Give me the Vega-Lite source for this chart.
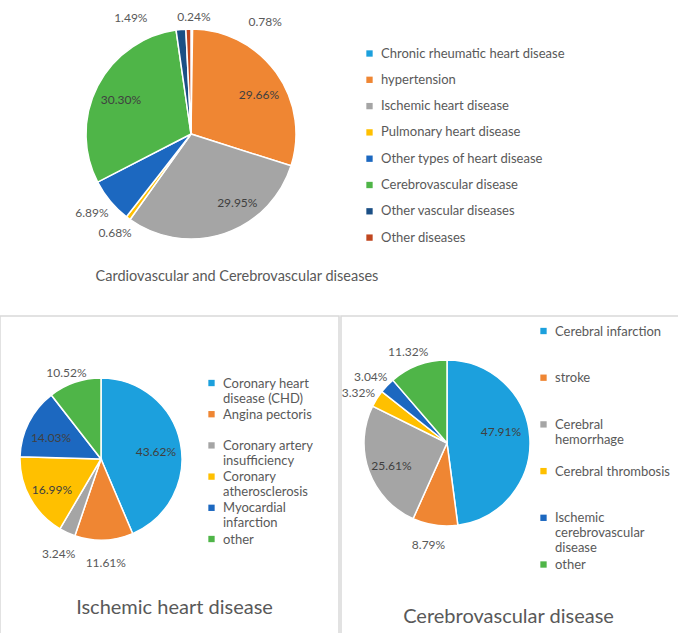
{
  "$schema": "https://vega.github.io/schema/vega-lite/v6.json",
  "padding": {"left": -1, "top": 5, "right": -1, "bottom": -2},
  "background": "white",
  "config": {
    "font": "Lato",
    "view": {"stroke": null},
    "legend": {"orient": "none", "symbolType": "square", "symbolSize": 40, "symbolStrokeWidth": 0, "labelFont": "Lato", "labelFontSize": 13, "labelColor": "#595959", "labelLimit": 400, "labelOffset": 5, "padding": 0},
    "title": {"font": "Lato", "fontWeight": "normal", "color": "#595959", "anchor": "middle", "frame": "group", "orient": "bottom"}
  },
  "datasets": {
    "top": [
      {"i": 1, "c": "Chronic rheumatic heart disease", "v": 0.0024},
      {"i": 2, "c": "hypertension", "v": 0.2966},
      {"i": 3, "c": "Ischemic heart disease", "v": 0.2995},
      {"i": 4, "c": "Pulmonary heart disease", "v": 0.0068},
      {"i": 5, "c": "Other types of heart disease", "v": 0.0689},
      {"i": 6, "c": "Cerebrovascular disease", "v": 0.3030},
      {"i": 7, "c": "Other vascular diseases", "v": 0.0149},
      {"i": 8, "c": "Other diseases", "v": 0.0078}
    ],
    "bl": [
      {"i": 1, "c": "Coronary heart disease (CHD)", "v": 0.4362},
      {"i": 2, "c": "Angina pectoris", "v": 0.1161},
      {"i": 3, "c": "Coronary artery insufficiency", "v": 0.0324},
      {"i": 4, "c": "Coronary atherosclerosis", "v": 0.1699},
      {"i": 5, "c": "Myocardial infarction", "v": 0.1403},
      {"i": 6, "c": "other", "v": 0.1052}
    ],
    "br": [
      {"i": 1, "c": "Cerebral infarction", "v": 0.4791},
      {"i": 2, "c": "stroke", "v": 0.0879},
      {"i": 3, "c": "Cerebral hemorrhage", "v": 0.2561},
      {"i": 4, "c": "Cerebral thrombosis", "v": 0.0332},
      {"i": 5, "c": "Ischemic cerebrovascular disease", "v": 0.0304},
      {"i": 6, "c": "other", "v": 0.1132}
    ]
  },
  "resolve": {"scale": {"color": "independent", "theta": "independent"}, "legend": {"color": "independent"}},
  "vconcat": [
    {
      "width": 382, "height": 258,
      "data": {"name": "top"},
      "title": {"text": "Cardiovascular and Cerebrovascular diseases", "fontSize": 14.5, "dx": 46, "offset": 7},
      "encoding": {"theta": {"field": "v", "type": "quantitative", "stack": true}, "order": {"field": "i"}},
      "layer": [
        {"mark": {"type": "arc", "outerRadius": 105, "stroke": "white", "strokeWidth": 1.5},
         "encoding": {"color": {"field": "c", "type": "nominal", "sort": null,
           "scale": {"domain": ["Chronic rheumatic heart disease", "hypertension", "Ischemic heart disease", "Pulmonary heart disease", "Other types of heart disease", "Cerebrovascular disease", "Other vascular diseases", "Other diseases"],
                     "range": ["#1CA0DD", "#EF8633", "#A5A5A5", "#FFC000", "#1C68C0", "#4FB548", "#1B4F85", "#C0461F"]},
           "legend": {"title": null, "legendX": 363, "legendY": 42, "rowPadding": 12.3}}}},
        {"mark": {"type": "text", "fontSize": 12, "fill": "#404040", "dx": 3, "dy": 8},
         "encoding": {"radius": {"value": 80},
           "text": {"condition": {"test": "datum.c == 'hypertension'", "field": "v", "format": ".2%"}, "value": ""}}},
        {"mark": {"type": "text", "fontSize": 12, "fill": "#404040", "dx": 21, "dy": -7},
         "encoding": {"radius": {"value": 80},
           "text": {"condition": {"test": "datum.c == 'Ischemic heart disease'", "field": "v", "format": ".2%"}, "value": ""}}},
        {"mark": {"type": "text", "fontSize": 12, "fill": "#404040", "dx": 1, "dy": 3},
         "encoding": {"radius": {"value": 80},
           "text": {"condition": {"test": "datum.c == 'Cerebrovascular disease'", "field": "v", "format": ".2%"}, "value": ""}}},
        {"mark": {"type": "text", "fontSize": 12, "fill": "#595959", "dx": 2, "dy": 0},
         "encoding": {"radius": {"value": 117},
           "text": {"condition": {"test": "datum.c == 'Chronic rheumatic heart disease'", "field": "v", "format": ".2%"}, "value": ""}}},
        {"mark": {"type": "text", "fontSize": 12, "fill": "#595959", "dx": -49, "dy": 0},
         "encoding": {"radius": {"value": 117},
           "text": {"condition": {"test": "datum.c == 'Other vascular diseases'", "field": "v", "format": ".2%"}, "value": ""}}},
        {"mark": {"type": "text", "fontSize": 12, "fill": "#595959", "dx": 77, "dy": 5},
         "encoding": {"radius": {"value": 117},
           "text": {"condition": {"test": "datum.c == 'Other diseases'", "field": "v", "format": ".2%"}, "value": ""}}},
        {"mark": {"type": "text", "fontSize": 12, "fill": "#595959", "dx": -9, "dy": 4},
         "encoding": {"radius": {"value": 117},
           "text": {"condition": {"test": "datum.c == 'Other types of heart disease'", "field": "v", "format": ".2%"}, "value": ""}}},
        {"mark": {"type": "text", "fontSize": 12, "fill": "#595959", "dx": -6, "dy": 5},
         "encoding": {"radius": {"value": 117},
           "text": {"condition": {"test": "datum.c == 'Pulmonary heart disease'", "field": "v", "format": ".2%"}, "value": ""}}}
      ]
    },
    {
      "resolve": {"scale": {"color": "independent", "theta": "independent"}, "legend": {"color": "independent"}},
      "hconcat": [
        {
          "width": 339, "height": 322,
          "view": {"stroke": "#d9d9d9", "strokeWidth": 1.5},
          "data": {"name": "bl"},
          "title": {"text": "Ischemic heart disease", "fontSize": 20, "dx": 5, "offset": -40},
          "encoding": {"theta": {"field": "v", "type": "quantitative", "stack": true}, "order": {"field": "i"}},
          "layer": [
            {"mark": {"type": "arc", "outerRadius": 81, "x": 101, "y": 143, "stroke": "white", "strokeWidth": 1.5},
             "encoding": {"color": {"field": "c", "type": "nominal", "sort": null,
               "scale": {"domain": ["Coronary heart disease (CHD)", "Angina pectoris", "Coronary artery insufficiency", "Coronary atherosclerosis", "Myocardial infarction", "other"],
                         "range": ["#1CA0DD", "#EF8633", "#A5A5A5", "#FFC000", "#1C68C0", "#4FB548"]},
               "legend": {"title": null, "legendX": 205, "legendY": 65, "rowPadding": 2.2, "gridAlign": "all", "labelBaseline": "alphabetic",
                 "symbolType": "M-1,-2.42H1V-0.42H-1Z",
                 "labelExpr": "datum.label == 'Coronary heart disease (CHD)' ? ['Coronary heart', 'disease (CHD)'] : datum.label == 'Coronary artery insufficiency' ? ['Coronary artery', 'insufficiency'] : datum.label == 'Coronary atherosclerosis' ? ['Coronary', 'atherosclerosis'] : datum.label == 'Myocardial infarction' ? ['Myocardial', 'infarction'] : datum.label"}}}},
            {"mark": {"type": "text", "fontSize": 12, "fill": "#404040", "x": 101, "y": 143, "dy": 4},
             "encoding": {"radius": {"value": 56},
               "text": {"condition": {"test": "datum.v > 0.13", "field": "v", "format": ".2%"}, "value": ""}}},
            {"mark": {"type": "text", "fontSize": 12, "fill": "#595959", "x": 101, "y": 143, "dx": -4, "dy": 3},
             "encoding": {"radius": {"value": 94},
               "text": {"condition": {"test": "datum.c == 'other'", "field": "v", "format": ".2%"}, "value": ""}}},
            {"mark": {"type": "text", "fontSize": 12, "fill": "#595959", "x": 101, "y": 143, "dx": 1},
             "encoding": {"radius": {"value": 104},
               "text": {"condition": {"test": "datum.c == 'Angina pectoris' || datum.c == 'Coronary artery insufficiency'", "field": "v", "format": ".2%"}, "value": ""}}}
          ]
        },
        {
          "width": 341, "height": 322,
          "view": {"stroke": "#d9d9d9", "strokeWidth": 1.5},
          "data": {"name": "br"},
          "title": {"text": "Cerebrovascular disease", "fontSize": 20, "dx": -3, "offset": -31},
          "encoding": {"theta": {"field": "v", "type": "quantitative", "stack": true}, "order": {"field": "i"}},
          "layer": [
            {"mark": {"type": "arc", "outerRadius": 83, "x": 106, "y": 127, "stroke": "white", "strokeWidth": 1.5},
             "encoding": {"color": {"field": "c", "type": "nominal", "sort": null,
               "scale": {"domain": ["Cerebral infarction", "stroke", "Cerebral hemorrhage", "Cerebral thrombosis", "Ischemic cerebrovascular disease", "other"],
                         "range": ["#1CA0DD", "#EF8633", "#A5A5A5", "#FFC000", "#1C68C0", "#4FB548"]},
               "legend": {"title": null, "legendX": 196, "legendY": 13, "rowPadding": 2.7, "gridAlign": "all", "labelBaseline": "alphabetic",
                 "symbolType": "M-1,-2.42H1V-0.42H-1Z",
                 "labelExpr": "datum.label == 'Cerebral hemorrhage' ? ['Cerebral', 'hemorrhage'] : datum.label == 'Ischemic cerebrovascular disease' ? ['Ischemic', 'cerebrovascular', 'disease'] : datum.label"}}}},
            {"mark": {"type": "text", "fontSize": 12, "fill": "#404040", "x": 106, "y": 127, "dx": -3, "dy": -7},
             "encoding": {"radius": {"value": 57},
               "text": {"condition": {"test": "datum.c == 'Cerebral infarction'", "field": "v", "format": ".2%"}, "value": ""}}},
            {"mark": {"type": "text", "fontSize": 12, "fill": "#404040", "x": 106, "y": 127, "dx": -2, "dy": 4},
             "encoding": {"radius": {"value": 57},
               "text": {"condition": {"test": "datum.c == 'Cerebral hemorrhage'", "field": "v", "format": ".2%"}, "value": ""}}},
            {"mark": {"type": "text", "fontSize": 12, "fill": "#595959", "x": 106, "y": 127, "dx": -4, "dy": 3},
             "encoding": {"radius": {"value": 100},
               "text": {"condition": {"test": "datum.v < 0.12", "field": "v", "format": ".2%"}, "value": ""}}}
          ]
        }
      ],
      "spacing": 0
    }
  ],
  "spacing": 31
}
